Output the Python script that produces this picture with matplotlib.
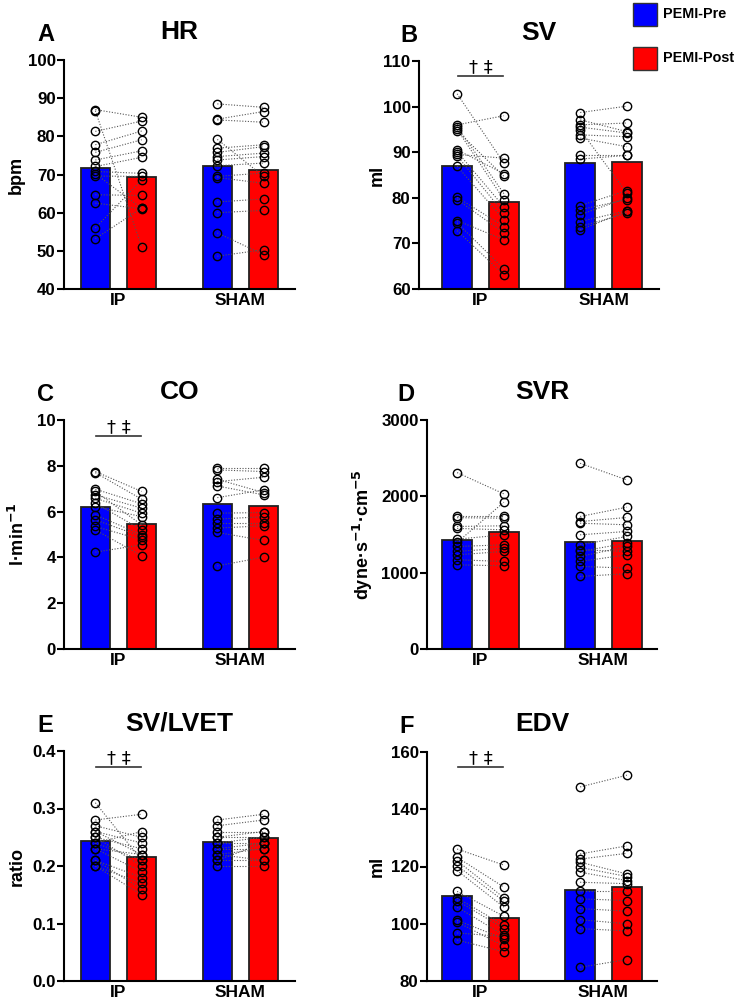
import matplotlib
matplotlib.use("Agg")
import matplotlib.pyplot as plt
from matplotlib.patches import Rectangle

plt.rcParams['font.family'] = ['Liberation Sans', 'DejaVu Sans']
plt.rcParams['font.weight'] = 'bold'

groups = ["IP", "SHAM"]
series_names = ["PEMI-Pre", "PEMI-Post"]
pre_color = "#0000ff"
post_color = "#ff0000"

# HR (bpm)
hr_means = [[71.8, 69.3], [72.1, 71.2]]
hr_ip_pre = [87.0, 86.7, 81.3, 77.8, 75.8, 73.8, 72.1, 70.8, 70.2, 69.6, 64.7, 62.5, 56.0, 53.2]
hr_ip_post = [85.0, 51.0, 84.0, 81.4, 79.1, 76.2, 74.5, 70.3, 61.1, 69.5, 64.5, 61.0, 68.6, 61.2]
hr_sham_pre = [88.5, 84.5, 84.3, 79.2, 76.9, 75.8, 74.7, 73.8, 72.3, 69.5, 69.2, 62.8, 60.0, 54.7, 48.6]
hr_sham_post = [87.6, 86.5, 83.7, 69.5, 77.8, 77.3, 75.6, 74.7, 73.0, 70.4, 67.7, 63.6, 60.6, 49.0, 50.3]

# SV (ml)
sv_means = [[87.0, 79.0], [87.7, 87.9]]
sv_ip_pre = [102.8, 96.0, 95.6, 95.0, 94.7, 90.5, 90.1, 89.5, 89.2, 86.9, 80.1, 79.6, 75.0, 74.5, 72.8]
sv_ip_post = [87.6, 98.0, 80.9, 79.6, 84.7, 85.3, 78.0, 88.7, 76.6, 75.2, 73.7, 72.3, 70.8, 64.4, 63.1]
sv_sham_pre = [98.7, 97.1, 96.0, 95.5, 94.9, 93.8, 93.1, 89.4, 88.5, 78.3, 77.4, 76.3, 74.8, 73.7, 73.0]
sv_sham_post = [100.1, 94.5, 96.4, 94.2, 81.0, 93.4, 91.2, 89.4, 89.3, 81.6, 79.6, 80.0, 77.2, 76.6, 77.0]

# CO (l/min)
co_means = [[6.22, 5.45], [6.32, 6.25]]
co_ip_pre = [7.75, 7.70, 6.98, 6.88, 6.73, 6.58, 6.37, 6.22, 5.86, 5.64, 5.35, 5.20, 4.23]
co_ip_post = [6.88, 6.54, 6.34, 5.42, 6.15, 5.93, 5.20, 5.78, 4.99, 4.91, 4.77, 4.07, 4.55]
co_sham_pre = [7.89, 7.82, 7.41, 7.31, 7.12, 6.61, 5.93, 5.67, 5.52, 5.28, 5.09, 3.63]
co_sham_post = [7.89, 7.75, 6.83, 7.50, 6.73, 6.95, 5.96, 5.78, 5.52, 5.38, 4.74, 4.01]

# SVR (dyne s-1 cm-5)
svr_means = [[1430, 1531], [1400, 1413]]
svr_ip_pre = [2311, 1736, 1720, 1605, 1580, 1439, 1396, 1343, 1278, 1234, 1169, 1103]
svr_ip_post = [2032, 1736, 1714, 1614, 1561, 1496, 1923, 1365, 1321, 1278, 1147, 1090]
svr_sham_pre = [2433, 1736, 1670, 1648, 1496, 1365, 1300, 1278, 1212, 1147, 1082, 951]
svr_sham_post = [2215, 1858, 1723, 1627, 1540, 1474, 1278, 1387, 1343, 1234, 1060, 986]

# SV/LVET (ratio)
lvet_means = [[0.244, 0.216], [0.242, 0.248]]
lvet_ip_pre = [0.31, 0.28, 0.27, 0.26, 0.26, 0.25, 0.25, 0.24, 0.24, 0.23, 0.23, 0.21, 0.21, 0.20, 0.20]
lvet_ip_post = [0.21, 0.29, 0.25, 0.24, 0.22, 0.23, 0.20, 0.26, 0.21, 0.22, 0.19, 0.18, 0.16, 0.17, 0.15]
lvet_sham_pre = [0.28, 0.27, 0.26, 0.25, 0.25, 0.24, 0.24, 0.23, 0.23, 0.22, 0.22, 0.21, 0.21, 0.20]
lvet_sham_post = [0.29, 0.28, 0.26, 0.25, 0.26, 0.24, 0.25, 0.23, 0.24, 0.21, 0.23, 0.24, 0.21, 0.20]

# EDV (ml)
edv_means = [[109.7, 102.1], [111.9, 112.8]]
edv_ip_pre = [126.1, 123.2, 122.0, 120.3, 118.6, 111.3, 109.0, 108.1, 105.8, 101.2, 100.6, 96.8, 94.3]
edv_ip_post = [120.5, 112.8, 109.1, 107.9, 105.8, 102.6, 99.5, 98.3, 96.0, 94.8, 92.2, 95.5, 90.2]
edv_sham_pre = [147.8, 124.4, 122.6, 121.5, 119.7, 118.0, 114.5, 111.6, 108.7, 105.3, 101.4, 98.3, 84.8]
edv_sham_post = [151.9, 127.2, 124.6, 117.4, 116.5, 115.1, 114.0, 111.6, 108.1, 104.4, 100.0, 97.5, 87.5]

W, H = 738, 1005
fig = plt.figure(figsize=(W / 100, H / 100), dpi=100)


def make_ax(left, right, top, bottom):
    return fig.add_axes([left / W, 1 - bottom / H, (right - left) / W, (bottom - top) / H])


def draw_panel(ax, letter, title, ylabel, means, pairs, ylim, yticks, xlim,
               label_x, letter_x, fmt=None, sig_y=None):
    off = 0.19
    bw = 0.24
    for g in range(2):
        ax.bar(g - off, means[g][0], bw, color=pre_color, edgecolor="#222222", linewidth=1.3, zorder=1)
        ax.bar(g + off, means[g][1], bw, color=post_color, edgecolor="#222222", linewidth=1.3, zorder=1)
        pre, post = pairs[g]
        for a, b in zip(pre, post):
            ax.plot([g - off, g + off], [a, b], ls=(0, (1, 1.5)), color="#555555", lw=0.8, zorder=2)
        ax.plot([g - off] * len(pre), pre, "o", mfc="none", mec="black", ms=6, mew=1.0, zorder=3)
        ax.plot([g + off] * len(post), post, "o", mfc="none", mec="black", ms=6, mew=1.0, zorder=3)
    ax.set_xlim(*xlim)
    ax.set_ylim(*ylim)
    ax.set_yticks(yticks)
    if fmt:
        ax.set_yticklabels([fmt.format(t) for t in yticks])
    ax.set_xticks([0, 1])
    ax.set_xticklabels(groups)
    for s in ["top", "right"]:
        ax.spines[s].set_visible(False)
    for s in ["left", "bottom"]:
        ax.spines[s].set_linewidth(1.5)
    ax.tick_params(axis="y", labelsize=12.2, width=1.5, length=5, pad=1)
    ax.tick_params(axis="x", labelsize=12.5, width=1.5, length=0, pad=3)
    for t in ax.get_xticklabels() + ax.get_yticklabels():
        t.set_fontweight("bold")
    ax.set_ylabel(ylabel, fontsize=13, fontweight="bold")
    ax.yaxis.set_label_coords(label_x, 0.5)
    ax.set_title(title, fontsize=19, fontweight="bold", pad=15)
    bb = ax.get_position()
    ax.text(letter_x / W, bb.y1 + 26 / H, letter, transform=fig.transFigure, fontsize=17,
            fontweight="bold", ha="center", va="center")
    if sig_y is not None:
        ax.plot([-0.185, 0.185], [sig_y, sig_y], color="#333333", lw=1.2, clip_on=False)
        ax.annotate("\u2020 \u2021", (0, sig_y), xytext=(0, 0), textcoords="offset points",
                    ha="center", va="bottom", fontsize=13, fontweight="normal",
                    family=["DejaVu Sans"])


axA = make_ax(64, 295, 60, 289)
draw_panel(axA, "A", "HR", "bpm", hr_means,
           [(hr_ip_pre, hr_ip_post), (hr_sham_pre, hr_sham_post)],
           (40, 100), list(range(40, 101, 10)), (-0.447, 1.447), -0.17, 46)

axB = make_ax(419, 659, 61, 289)
draw_panel(axB, "B", "SV", "ml", sv_means,
           [(sv_ip_pre, sv_ip_post), (sv_sham_pre, sv_sham_post)],
           (60, 110), list(range(60, 111, 10)), (-0.5, 1.45), -0.14, 409, sig_y=106.7)

axC = make_ax(64, 295, 420, 649)
draw_panel(axC, "C", "CO", "l\u00b7min$^{\\mathbf{-1}}$", co_means,
           [(co_ip_pre, co_ip_post), (co_sham_pre, co_sham_post)],
           (0, 10), list(range(0, 11, 2)), (-0.447, 1.447), -0.155, 45, sig_y=9.3)

axD = make_ax(427, 657, 420, 649)
draw_panel(axD, "D", "SVR", "dyne\u00b7s$^{\\mathbf{-1}}$\u00b7cm$^{\\mathbf{-5}}$", svr_means,
           [(svr_ip_pre, svr_ip_post), (svr_sham_pre, svr_sham_post)],
           (0, 3000), [0, 1000, 2000, 3000], (-0.435, 1.435), -0.226, 406)

axE = make_ax(64, 295, 751, 981)
draw_panel(axE, "E", "SV/LVET", "ratio", lvet_means,
           [(lvet_ip_pre, lvet_ip_post), (lvet_sham_pre, lvet_sham_post)],
           (0, 0.4), [0.0, 0.1, 0.2, 0.3, 0.4], (-0.447, 1.447), -0.165, 45,
           fmt="{:.1f}", sig_y=0.372)

axF = make_ax(427, 657, 752, 981)
draw_panel(axF, "F", "EDV", "ml", edv_means,
           [(edv_ip_pre, edv_ip_post), (edv_sham_pre, edv_sham_post)],
           (80, 160), list(range(80, 161, 20)), (-0.435, 1.435), -0.18, 407, sig_y=154.8)

# legend boxes
for i, (name, col) in enumerate(zip(series_names, [pre_color, post_color])):
    top = 3 + i * 44
    fig.patches.append(Rectangle((633 / W, 1 - (top + 23) / H), 24 / W, 23 / H,
                                 transform=fig.transFigure, facecolor=col,
                                 edgecolor="#333333", linewidth=1.0))
    fig.text(663 / W, 1 - (top + 11.5) / H, name, fontsize=10.4, fontweight="bold",
             ha="left", va="center")

fig.savefig("out.png", dpi=100)
